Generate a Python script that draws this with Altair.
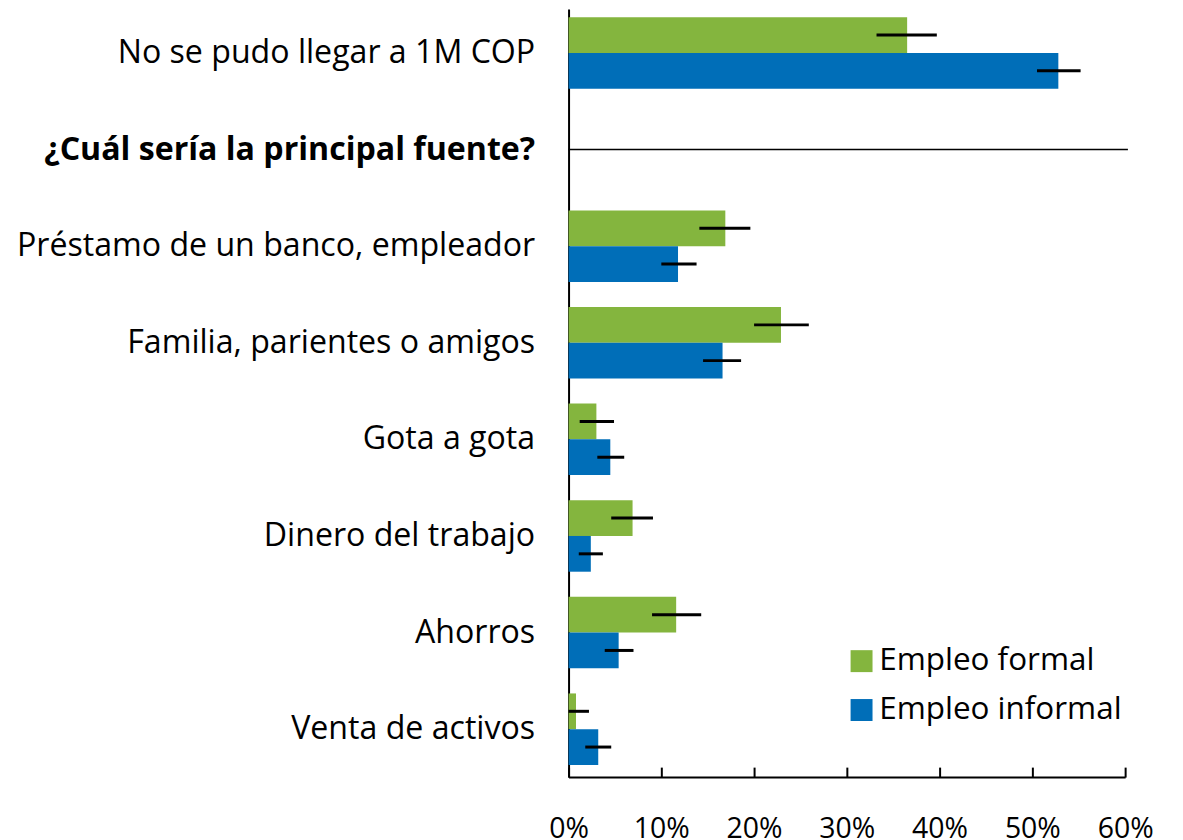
import altair as alt
import pandas as pd

categories = [
    "No se pudo llegar a 1M COP",
    "¿Cuál sería la principal fuente?",
    "Préstamo de un banco, empleador",
    "Familia, parientes o amigos",
    "Gota a gota",
    "Dinero del trabajo",
    "Ahorros",
    "Venta de activos",
]
series = ["Empleo formal", "Empleo informal"]
formal = [36.5, None, 16.9, 22.9, 3.0, 6.9, 11.6, 0.8]
formal_lo = [33.2, None, 14.1, 20.0, 1.2, 4.6, 9.0, 0.0]
formal_hi = [39.7, None, 19.6, 25.9, 4.9, 9.1, 14.3, 2.2]
informal = [52.8, None, 11.8, 16.6, 4.5, 2.4, 5.4, 3.2]
informal_lo = [50.5, None, 10.0, 14.5, 3.1, 1.1, 3.9, 1.8]
informal_hi = [55.2, None, 13.8, 18.6, 6.0, 3.7, 7.0, 4.6]
x_ticks = [0, 10, 20, 30, 40, 50, 60]
header = "¿Cuál sería la principal fuente?"

rows = []
for i, c in enumerate(categories):
    if formal[i] is None:
        continue
    rows.append(dict(cat=c, serie=series[0], v=formal[i], lo=formal_lo[i], hi=formal_hi[i]))
    rows.append(dict(cat=c, serie=series[1], v=informal[i], lo=informal_lo[i], hi=informal_hi[i]))
df = pd.DataFrame(rows)
sep_df = pd.DataFrame([dict(cat=header, x0=0, x1=60.3)])

FONT = "Open Sans"
xscale = alt.Scale(domain=[0, 60], nice=False, clamp=False)
yscale = alt.Scale(domain=categories, paddingInner=0.26, paddingOuter=0.105, align=0.4)
yaxis = alt.Axis(
    title=None, ticks=False, domain=True, domainColor="black", domainWidth=2,
    labelFontSize=32.2, labelColor="black", labelPadding=34, labelLimit=700,
    labelFont=FONT,
    labelFontWeight={"expr": f"datum.value == '{header}' ? 'bold' : 'normal'"},
)
y_enc = alt.Y("cat:N", scale=yscale, axis=yaxis, sort=categories)
yoff = alt.YOffset("serie:N", scale=alt.Scale(domain=series, paddingInner=0, paddingOuter=0))

bars = alt.Chart(df).mark_bar().encode(
    y=y_enc,
    yOffset=yoff,
    x=alt.X("v:Q", scale=xscale, axis=alt.Axis(
        title=None, orient="bottom", values=x_ticks, ticks=False, domain=True,
        domainColor="black", domainWidth=2, labelFontSize=28.5, labelColor="black",
        labelPadding=38, labelFlush=False, grid=False, labelFont=FONT,
        labelExpr="datum.value + '%'")),
    color=alt.Color("serie:N", scale=alt.Scale(domain=series, range=["#84B53E", "#006EB8"]),
                    legend=alt.Legend(title=None, orient="none", legendX=278, legendY=638,
                                      symbolType="square", symbolSize=484, symbolStrokeWidth=0,
                                      labelFontSize=31.5, labelFont=FONT, labelColor="black",
                                      labelLimit=600, labelOffset=2, rowPadding=16)),
)

err = alt.Chart(df).mark_rule(color="black", strokeWidth=3).encode(
    y=y_enc,
    yOffset=yoff,
    x=alt.X("lo:Q", scale=xscale, axis=alt.Axis(
        title=None, orient="bottom", values=x_ticks, ticks=True, tickSize=10, tickWidth=2,
        tickColor="black", domain=False, labels=False, grid=False, offset=-10)),
    x2="hi:Q",
)

sep = alt.Chart(sep_df).mark_rule(color="black", strokeWidth=1.5).encode(
    y=y_enc,
    x=alt.X("x0:Q", scale=xscale, axis=None),
    x2="x1:Q",
)

chart = alt.layer(bars, err, sep).resolve_axis(x="independent").properties(
    width=558, height=770,
    autosize=alt.AutoSizeParams(type="none"),
    padding={"left": 562, "top": 0, "right": 50, "bottom": 64},
).configure(font=FONT).configure_view(stroke=None)

chart.save("out.html", embed_options={"renderer": "svg", "actions": False})
